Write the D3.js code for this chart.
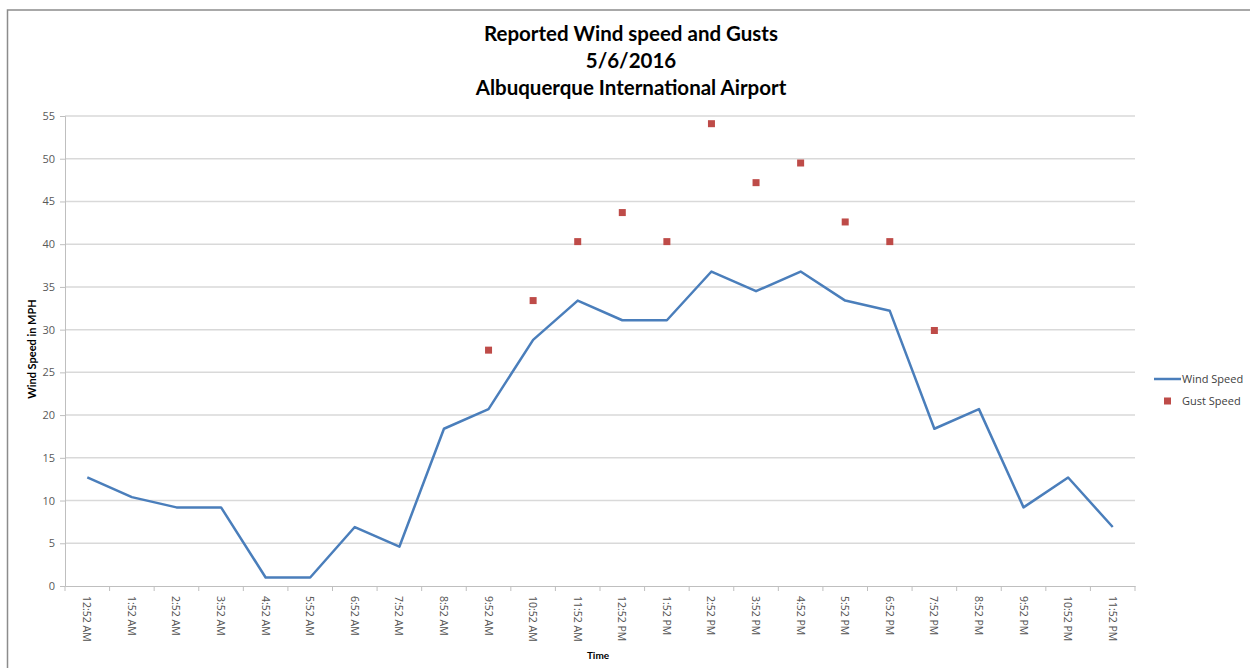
<!DOCTYPE html>
<html>
<head>
<meta charset="utf-8">
<script src="https://cdn.jsdelivr.net/npm/d3@7"></script>
<style>
  body { margin: 0; background: #fff; }
  svg { font-family: Lato, "Open Sans", sans-serif; }
</style>
</head>
<body>
<svg class="chart"></svg>
<script>
// Hourly observations
const times = ["12:52 AM", "1:52 AM", "2:52 AM", "3:52 AM", "4:52 AM", "5:52 AM",
  "6:52 AM", "7:52 AM", "8:52 AM", "9:52 AM", "10:52 AM", "11:52 AM",
  "12:52 PM", "1:52 PM", "2:52 PM", "3:52 PM", "4:52 PM", "5:52 PM",
  "6:52 PM", "7:52 PM", "8:52 PM", "9:52 PM", "10:52 PM", "11:52 PM"];
const windSpeed = [12.7, 10.4, 9.2, 9.2, 1.0, 1.0, 6.9, 4.6, 18.4, 20.7, 28.8, 33.4,
  31.1, 31.1, 36.8, 34.5, 36.8, 33.4, 32.2, 18.4, 20.7, 9.2, 12.7, 6.9];
// null where no gust was reported
const gustSpeed = [null, null, null, null, null, null, null, null, null, 27.6, 33.4, 40.3,
  43.7, 40.3, 54.1, 47.2, 49.5, 42.6, 40.3, 29.9, null, null, null, null];
const yTicks = [0, 5, 10, 15, 20, 25, 30, 35, 40, 45, 50, 55];
const titleLines = ["Reported Wind speed and Gusts", "5/6/2016", "Albuquerque International Airport"];

const W = 1250, H = 668;
const plot = { left: 65, right: 1135, top: 116, bottom: 586 };

const svg = d3.select(".chart").attr("width", W).attr("height", H);

// chart frame
svg.append("rect")
  .attr("x", 7.5).attr("y", 10)
  .attr("width", 1300).attr("height", 700)
  .attr("fill", "none").attr("stroke", "#8c8c8c").attr("stroke-width", 1.5);

const x = d3.scaleBand().domain(times).range([plot.left, plot.right]);
const y = d3.scaleLinear().domain([0, 55]).range([plot.bottom, plot.top]);

// gridlines
svg.append("g")
  .selectAll("line")
  .data(yTicks.slice(1))
  .enter()
  .append("line")
  .attr("x1", plot.left).attr("x2", plot.right)
  .attr("y1", d => y(d)).attr("y2", d => y(d))
  .attr("stroke", "#d9d9d9").attr("stroke-width", 1.5);

// y axis
const yAxis = svg.append("g")
  .attr("transform", "translate(" + plot.left + ",0)")
  .call(d3.axisLeft(y).tickValues(yTicks).tickSize(5).tickPadding(5));
yAxis.select(".domain").attr("stroke", "#bfbfbf");
yAxis.selectAll(".tick line").attr("stroke", "#bfbfbf");
yAxis.selectAll("text").attr("fill", "#595959").style("font-size", "11px")
  .style("font-family", "'Open Sans', sans-serif");

// x axis: ticks at category boundaries
const xAxis = svg.append("g")
  .attr("transform", "translate(0," + plot.bottom + ")")
  .call(d3.axisBottom(x).tickSize(0).tickPadding(0));
xAxis.select(".domain").attr("stroke", "#bfbfbf");
xAxis.selectAll(".tick text").remove();
svg.append("g")
  .selectAll("line")
  .data(times.concat(["end"]))
  .enter()
  .append("line")
  .attr("x1", (d, i) => plot.left + i * x.step())
  .attr("x2", (d, i) => plot.left + i * x.step())
  .attr("y1", plot.bottom).attr("y2", plot.bottom + 5)
  .attr("stroke", "#bfbfbf");

svg.append("g")
  .selectAll("text")
  .data(times)
  .enter()
  .append("text")
  .attr("transform", d => "translate(" + (x(d) + x.bandwidth() / 2 - 4) + "," + (plot.bottom + 10) + ") rotate(90)")
  .attr("fill", "#505050")
  .style("font-size", "10.5px")
  .style("font-family", "'Open Sans', sans-serif")
  .text(d => d);

// title
svg.append("g")
  .selectAll("text")
  .data(titleLines)
  .enter()
  .append("text")
  .attr("x", 631)
  .attr("y", (d, i) => 41 + i * 27)
  .attr("text-anchor", "middle")
  .style("font-size", "20.5px")
  .style("font-weight", "bold")
  .attr("fill", "#000")
  .text(d => d);

// axis titles
svg.append("text")
  .attr("transform", "translate(36," + 349 + ") rotate(-90)")
  .attr("text-anchor", "middle")
  .style("font-size", "11px").style("font-weight", "bold")
  .text("Wind Speed in MPH");

svg.append("text")
  .attr("x", 598).attr("y", 659)
  .attr("text-anchor", "middle")
  .style("font-size", "10px").style("font-weight", "bold")
  .text("Time");

const cx = d => x(d) + x.bandwidth() / 2;

// wind line
const line = d3.line()
  .x((d, i) => cx(times[i]))
  .y(d => y(d));
svg.append("path")
  .datum(windSpeed)
  .attr("d", line)
  .attr("fill", "none")
  .attr("stroke", "#4a7ebb")
  .attr("stroke-width", 2.5)
  .attr("stroke-linejoin", "round");

// gust markers
svg.append("g")
  .selectAll("rect")
  .data(gustSpeed.map((v, i) => ({ t: times[i], v: v })).filter(d => d.v !== null))
  .enter()
  .append("rect")
  .attr("x", d => cx(d.t) - 3.5)
  .attr("y", d => y(d.v) - 3.5)
  .attr("width", 7).attr("height", 7)
  .attr("fill", "#be4b48");

// legend
const legend = svg.append("g");
legend.append("line")
  .attr("x1", 1154).attr("x2", 1181)
  .attr("y1", 379).attr("y2", 379)
  .attr("stroke", "#4a7ebb").attr("stroke-width", 2.5);
legend.append("text")
  .attr("x", 1182).attr("y", 383)
  .attr("fill", "#404040")
  .style("font-size", "11px")
  .style("font-family", "'Open Sans', sans-serif")
  .text("Wind Speed");
legend.append("rect")
  .attr("x", 1164).attr("y", 397.5)
  .attr("width", 7).attr("height", 7)
  .attr("fill", "#be4b48");
legend.append("text")
  .attr("x", 1182).attr("y", 405)
  .attr("fill", "#404040")
  .style("font-size", "11px")
  .style("font-family", "'Open Sans', sans-serif")
  .text("Gust Speed");
</script>
</body>
</html>
